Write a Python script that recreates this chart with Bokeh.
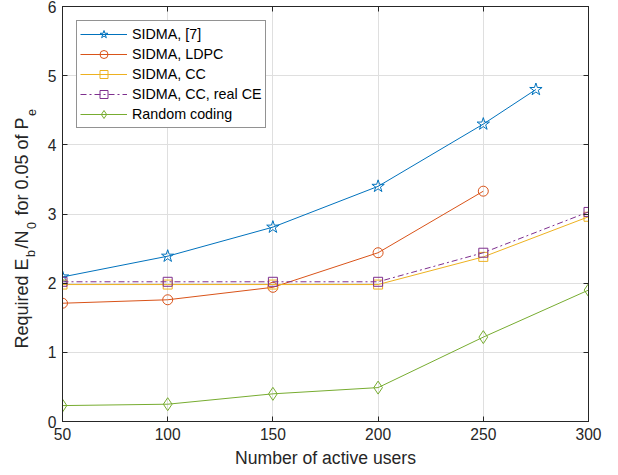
from math import pi
from bokeh.plotting import figure
from bokeh.layouts import row
from bokeh.models import LinearAxis, Range1d, FixedTicker, CustomJSTickFormatter
from bokeh.core.properties import value
from bokeh.embed import file_html
from bokeh.resources import INLINE

# ---- data ----
x_ref7 = [50, 100, 150, 200, 250, 275]
y_ref7 = [2.09, 2.39, 2.81, 3.40, 4.30, 4.80]
x_ldpc = [50, 100, 150, 200, 250]
y_ldpc = [1.71, 1.76, 1.94, 2.44, 3.33]
x_cc = [50, 100, 150, 200, 250, 300]
y_cc = [1.98, 1.98, 1.98, 1.98, 2.38, 2.96]
y_cc_ce = [2.02, 2.02, 2.02, 2.02, 2.44, 3.03]
x_rand = [50, 100, 150, 200, 250, 300]
y_rand = [0.23, 0.25, 0.40, 0.49, 1.22, 1.90]
x_ticks = [50, 100, 150, 200, 250, 300]
y_ticks = [0, 1, 2, 3, 4, 5, 6]
y_title = [("Required E", False), ("b", True), ("/N", False), ("0", True),
           ("\u00a0for 0.05 of P", False), ("e", True)]

FONT = "Liberation Sans"
TXT = "#262626"
C1, C2, C3, C4, C5 = "#0072BD", "#D95319", "#EDB120", "#7E2F8E", "#77AC30"

W, H = 618, 475
LBL_W = 40                      # width of the strip holding the y-axis title
FRAME_L, FRAME_R, FRAME_T, FRAME_B = 62, 588, 6, 421
X0, X1, Y0, Y1 = 50, 300, 0, 6

p = figure(width=W - LBL_W, height=H, x_range=Range1d(X0, X1), y_range=Range1d(Y0, Y1),
           output_backend="svg", toolbar_location=None,
           min_border_left=FRAME_L - LBL_W, min_border_right=W - FRAME_R,
           min_border_top=FRAME_T, min_border_bottom=H - FRAME_B)
p.outline_line_color = TXT
p.outline_line_width = 1
p.background_fill_color = "white"
p.border_fill_color = "white"

for ax in (p.xaxis[0], p.yaxis[0]):
    ax.major_tick_in = 5
    ax.major_tick_out = 0
    ax.minor_tick_in = 0
    ax.minor_tick_out = 0
    ax.axis_line_color = TXT
    ax.major_tick_line_color = TXT
    ax.major_label_text_font = FONT
    ax.major_label_text_font_size = "15.6px"
    ax.major_label_text_color = TXT
p.xaxis.ticker = FixedTicker(ticks=x_ticks)
p.yaxis.ticker = FixedTicker(ticks=y_ticks)
p.xaxis.major_label_standoff = 6
p.yaxis.major_label_standoff = 6
p.xaxis.axis_label = "Number of active users"
p.xaxis.axis_label_text_font = FONT
p.xaxis.axis_label_text_font_size = "17.6px"
p.xaxis.axis_label_text_font_style = "normal"
p.xaxis.axis_label_text_color = TXT
p.xaxis.axis_label_standoff = 5

# mirrored ticks on top and right (no labels)
blank = CustomJSTickFormatter(code="return ''")
for loc, ticks in (("above", x_ticks), ("right", y_ticks)):
    ax = LinearAxis(ticker=FixedTicker(ticks=ticks), formatter=blank,
                    major_tick_in=5, major_tick_out=0, minor_tick_in=0, minor_tick_out=0,
                    major_label_text_font_size="1px", major_label_standoff=0,
                    axis_line_color=TXT, major_tick_line_color=TXT)
    p.add_layout(ax, loc)

p.xgrid.ticker = FixedTicker(ticks=x_ticks)
p.ygrid.ticker = FixedTicker(ticks=y_ticks)
p.grid.grid_line_color = "#dfdfdf"
p.grid.grid_line_width = 1

def series(xs, ys, color, marker, size, label, dash="solid"):
    p.line(xs, ys, line_color=color, line_width=1, line_dash=dash, legend_label=label)
    p.scatter(xs, ys, marker=marker, size=size, line_color=color, line_width=1,
              fill_alpha=0, legend_label=label)

series(x_ref7, y_ref7, C1, "star", 13, "SIDMA, [7]")
series(x_ldpc, y_ldpc, C2, "circle", 10, "SIDMA, LDPC")
series(x_cc, y_cc, C3, "square", 9, "SIDMA, CC")
series(x_cc, y_cc_ce, C4, "square", 9, "SIDMA, CC, real CE", dash="6 3 2 3")
series(x_rand, y_rand, C5, "diamond", 13, "Random coding")

lg = p.legend[0]
lg.location = "top_left"
lg.margin = 14
lg.padding = 3
lg.spacing = 0
lg.label_height = 20
lg.glyph_height = 20
lg.glyph_width = 47
lg.label_standoff = 5
lg.label_text_font = FONT
lg.label_text_font_size = "14.3px"
lg.label_text_color = "#000000"
lg.border_line_color = TXT
lg.border_line_width = 1
lg.background_fill_color = "white"
lg.background_fill_alpha = 1

# ---- y-axis title with subscripts, in a narrow strip to the left ----
# (the row aligns this strip's frame with the main frame: rows FRAME_T..FRAME_B)
t = figure(width=LBL_W, height=H, x_range=Range1d(0, LBL_W),
           y_range=Range1d(FRAME_B, FRAME_T),
           x_axis_type=None, y_axis_type=None, output_backend="svg", toolbar_location=None,
           min_border_left=0, min_border_right=0,
           min_border_top=FRAME_T, min_border_bottom=H - FRAME_B)
t.outline_line_color = None
t.grid.visible = False
t.background_fill_color = "white"
t.border_fill_color = "white"

# Arial / Liberation Sans advance widths (per 1000 em) for the characters used
ADV = {"R": 722, "e": 556, "q": 556, "u": 556, "i": 222, "r": 333, "d": 556, " ": 278,
       "\u00a0": 278, "E": 667, "b": 556, "/": 278, "N": 722, "0": 556, "f": 278,
       "o": 556, ".": 278, "5": 556, "P": 667}
MAIN_FS, SUB_FS, SUB_PAD = 18.0, 12.5, 1.5

def text_w(s, fs):
    return sum(ADV.get(c, 556) for c in s) * fs / 1000.0

cursor = 348.0            # screen y where the title starts (it reads bottom to top)
main_txt, main_y, sub_txt, sub_y = [], [], [], []
for s, sub in y_title:
    if sub:
        sub_txt.append(s)
        sub_y.append(cursor - SUB_PAD)
        cursor -= text_w(s, SUB_FS) + 2 * SUB_PAD
    else:
        main_txt.append(s)
        main_y.append(cursor)
        cursor -= text_w(s, MAIN_FS)

t.text(x=[21] * len(main_txt), y=main_y, text=main_txt, angle=pi / 2,
       text_align="left", text_baseline="middle", text_font=value(FONT),
       text_font_size=f"{MAIN_FS}px", text_color=TXT)
t.text(x=[30.5] * len(sub_txt), y=sub_y, text=sub_txt, angle=pi / 2,
       text_align="left", text_baseline="middle", text_font=value(FONT),
       text_font_size=f"{SUB_FS}px", text_color=TXT)

layout = row(t, p, spacing=0)
open("out.html", "w").write(file_html(layout, INLINE))
